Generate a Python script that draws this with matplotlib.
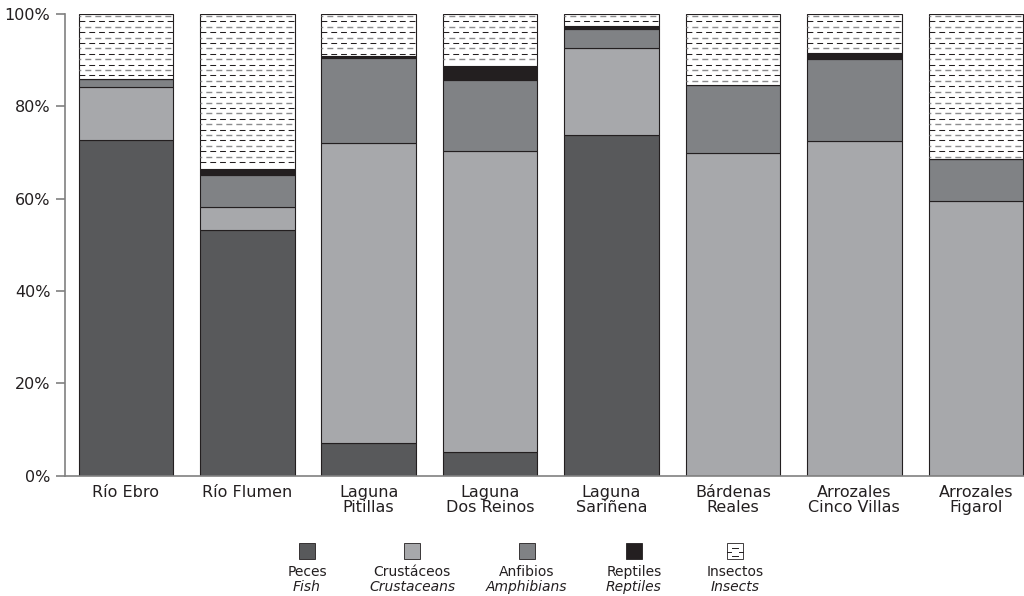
import matplotlib
matplotlib.use('Agg')
import matplotlib.pyplot as plt
from matplotlib.patches import Rectangle
from matplotlib.lines import Line2D
import numpy as np

plt.rcParams['font.family'] = ['DejaVu Sans']

sites = ['Río Ebro', 'Río Flumen', 'Laguna\nPitillas', 'Laguna\nDos Reinos',
         'Laguna\nSariñena', 'Bárdenas\nReales', 'Arrozales\nCinco Villas',
         'Arrozales\nFigarol']
peces = [72.7, 53.2, 7.0, 5.1, 73.8, 0.0, 0.0, 0.0]
crustaceos = [11.4, 5.1, 65.0, 65.3, 18.9, 69.8, 72.6, 59.5]
anfibios = [1.8, 6.8, 18.4, 15.3, 4.0, 14.9, 17.7, 9.2]
reptiles = [0.0, 1.3, 0.5, 3.1, 0.8, 0.0, 1.3, 0.0]
insectos = [14.1, 33.6, 9.1, 11.2, 2.5, 15.3, 8.4, 31.3]

groups_es = ['Peces', 'Crustáceos', 'Anfibios', 'Reptiles', 'Insectos']
groups_en = ['Fish', 'Crustaceans', 'Amphibians', 'Reptiles', 'Insects']
yticks = [0, 20, 40, 60, 80, 100]
ytick_labels = ['0%', '20%', '40%', '60%', '80%', '100%']

colors = ['#58595b', '#a7a8ab', '#808285', '#231f20', '#ffffff']
edge = '#231f20'
txt = '#231f20'
axis_gray = '#808080'

W, H = 1024, 596
fig = plt.figure(figsize=(W / 100, H / 100), dpi=100)
ax = fig.add_axes([65 / W, 1 - 475.7 / H, (1024 - 65) / W, (475.7 - 14) / H])

x = np.arange(len(sites))
width = 0.779
series = [peces, crustaceos, anfibios, reptiles, insectos]
bottom = np.zeros(len(sites))
bar_containers = []
for vals, c in zip(series, colors):
    vals = np.array(vals)
    bc = ax.bar(x, vals, width, bottom=bottom, color=c, edgecolor=edge,
                linewidth=0.8, zorder=2)
    bar_containers.append(bc)
    bottom = bottom + vals

# dashed fill pattern for insects
spacing = 1.17
for i, rect in enumerate(bar_containers[4]):
    b = rect.get_y()
    top = b + rect.get_height()
    y = top - 0.45
    k = 0
    x0 = rect.get_x()
    x1 = x0 + rect.get_width()
    while y > b + 0.4:
        if k % 2 == 0:
            col, lw, ls = '#8c8c8e', 1.0, (3.0, (4.3, 2.9))
        else:
            col, lw, ls = '#231f20', 0.75, (0.0, (5.6, 3.8))
        ln = ax.plot([x0, x1], [y, y], color=col, lw=lw, linestyle=ls,
                     dash_capstyle='butt', zorder=3)[0]
        ln.set_clip_path(rect)
        y -= spacing
        k += 1

ax.set_xlim(-0.501, 7.397)
ax.set_ylim(0, 100)
ax.set_yticks(yticks)
ax.set_yticklabels(ytick_labels)
ax.set_xticks(x)
ax.set_xticklabels(sites, linespacing=0.95)
ax.tick_params(axis='x', length=0, pad=7, labelsize=11.5, colors=txt)
ax.tick_params(axis='y', length=6.5, width=1.2, pad=4, labelsize=11.5,
               color=axis_gray, labelcolor=txt)
for s in ['top', 'right']:
    ax.spines[s].set_visible(False)
for s in ['left', 'bottom']:
    ax.spines[s].set_color(axis_gray)
    ax.spines[s].set_linewidth(1.2)

# legend
leg_x = [307, 412, 526.5, 634, 735]
sq = 16
for gx, c, es, en, idx in zip(leg_x, colors, groups_es, groups_en, range(5)):
    r = Rectangle(((gx - sq / 2) / W, 1 - 559.3 / H), sq / W, sq / H,
                  transform=fig.transFigure, facecolor=c, edgecolor=edge,
                  linewidth=0.6)
    fig.add_artist(r)
    if idx == 4:
        for yy, xx0, xx1 in [(547.5, gx - 3, gx + 3), (551.5, gx - 8, gx - 4),
                             (551.5, gx + 4, gx + 8), (555.5, gx - 3, gx + 3)]:
            fig.add_artist(Line2D([xx0 / W, xx1 / W], [1 - yy / H, 1 - yy / H],
                                  transform=fig.transFigure, color=edge, lw=0.7))
    fig.text(gx / W, 1 - 572 / H, es, ha='center', va='center', fontsize=10,
             color=txt)
    fig.text(gx / W, 1 - 587 / H, en, ha='center', va='center', fontsize=10,
             color=txt, style='italic')

fig.savefig('out.png', dpi=100)
